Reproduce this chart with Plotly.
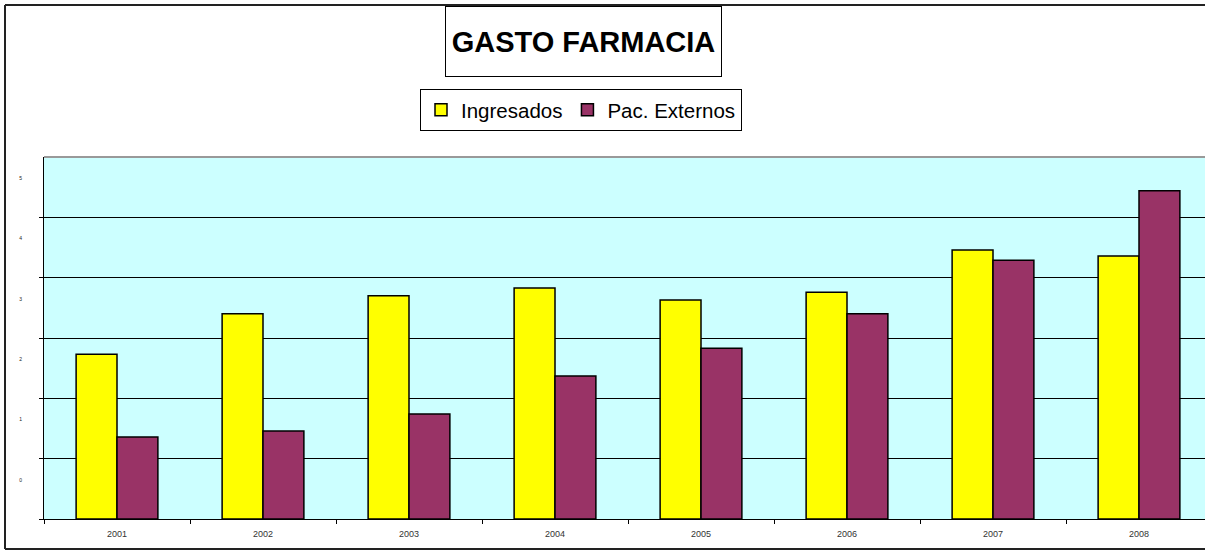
import plotly.graph_objects as go

years = ["2001", "2002", "2003", "2004", "2005", "2006", "2007", "2008"]
ingresados = [2.73, 3.40, 3.70, 3.83, 3.63, 3.76, 4.46, 4.36]
pac_externos = [1.36, 1.46, 1.74, 2.37, 2.83, 3.40, 4.29, 5.44]
y_ticks = [0, 1, 2, 3, 4, 5]

W, H = 1205, 550
L, R, T, B = 44, 0, 157, 31
PW = W - L - R
PH = H - T - B

def px_x(px):
    return (px - L) / PW

def px_y(py):
    return (H - B - py) / PH

fig = go.Figure()
fig.add_trace(go.Bar(x=years, y=ingresados, name="Ingresados",
                     marker=dict(color="#FFFF00", line=dict(color="black", width=1.5))))
fig.add_trace(go.Bar(x=years, y=pac_externos, name="Pac. Externos",
                     marker=dict(color="#993366", line=dict(color="black", width=1.5))))

fig.update_layout(
    width=W, height=H,
    margin=dict(l=L, r=R, t=T, b=B, pad=0),
    paper_bgcolor="white",
    plot_bgcolor="#CCFFFF",
    barmode="group",
    bargap=0.44,
    bargroupgap=0,
    font=dict(family="Arial, Liberation Sans, sans-serif", color="black"),
    showlegend=True,
    legend=dict(
        orientation="h",
        x=px_x(420), y=px_y(89), xanchor="left", yanchor="top",
        bgcolor="white", bordercolor="black", borderwidth=1,
        font=dict(size=20.5, family="Arial, Liberation Sans, sans-serif", color="black"),
        itemclick=False, itemdoubleclick=False,
        traceorder="normal",
        itemwidth=30,
    ),
    xaxis=dict(
        type="category",
        range=[-0.5, -0.5 + PW / 146.0],
        showline=True, linecolor="black", linewidth=1,
        ticks="outside", tickson="boundaries", ticklen=4, tickcolor="black",
        tickfont=dict(size=9, color="#333333", family="Arial, Liberation Sans, sans-serif"),
        showgrid=False, zeroline=False,
        ticklabelstandoff=6,
    ),
    yaxis=dict(
        range=[0, 6],
        tickvals=y_ticks,
        ticktext=[str(v) for v in y_ticks],
        showline=True, linecolor="black", linewidth=1,
        ticks="outside", ticklen=4, tickcolor="black",
        showgrid=True, gridcolor="black", gridwidth=1,
        zeroline=False,
        tickfont=dict(size=5, color="#222222"),
        ticklabelshift=-39,
        ticklabelstandoff=16,
    ),
    shapes=[
        # outer chart border
        dict(type="line", xref="paper", yref="paper",
             x0=px_x(5), x1=px_x(5), y0=px_y(5), y1=px_y(549),
             line=dict(color="#222222", width=2)),
        dict(type="line", xref="paper", yref="paper",
             x0=px_x(5), x1=px_x(1210), y0=px_y(5), y1=px_y(5),
             line=dict(color="#222222", width=2)),
        dict(type="line", xref="paper", yref="paper",
             x0=px_x(5), x1=px_x(1210), y0=px_y(549), y1=px_y(549),
             line=dict(color="#222222", width=2)),
        # plot area top border
        dict(type="line", xref="paper", yref="paper",
             x0=0, x1=1, y0=1, y1=1,
             line=dict(color="#999999", width=2)),
    ],
    annotations=[
        dict(text="<b>GASTO FARMACIA</b>", xref="paper", yref="paper",
             x=px_x(583.5), y=px_y(41.5), xanchor="center", yanchor="middle",
             showarrow=False, width=275, height=69,
             bordercolor="black", borderwidth=1, borderpad=0, bgcolor="white",
             font=dict(size=29, color="black", family="Arial, Liberation Sans, sans-serif")),
    ],
)

fig.write_html("out.html",
               config={"displayModeBar": False},
               post_script="document.body.style.margin='0';document.body.style.overflow='hidden';")
